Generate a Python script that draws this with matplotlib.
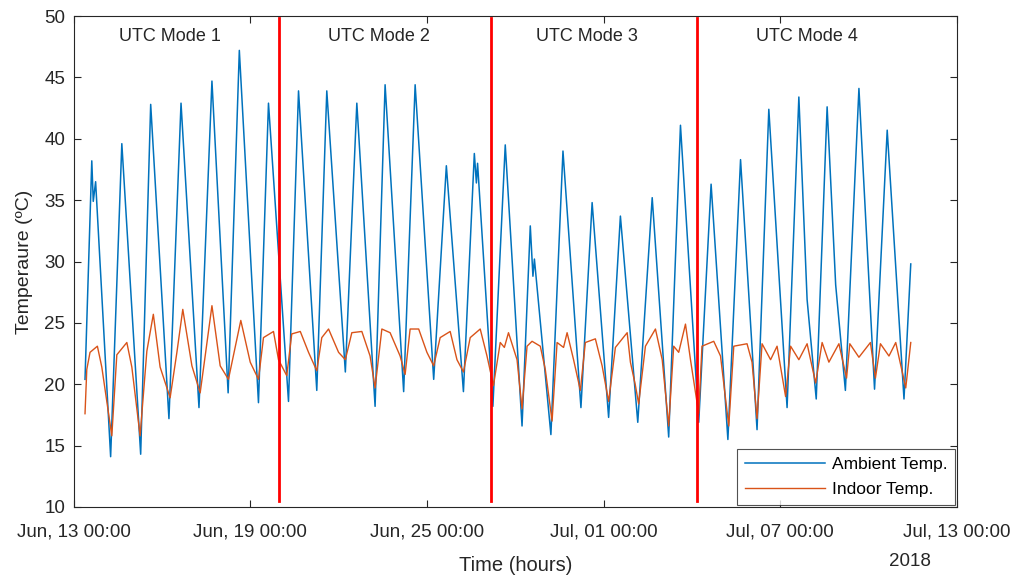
import matplotlib
matplotlib.use('Agg')
import matplotlib.pyplot as plt
import matplotlib.dates as mdates
import pandas as pd

# time axis in days since Jun 13 2018 00:00
amb_days = [0.39, 0.62, 0.67, 0.75, 1.26, 1.64, 2.28, 2.62, 3.24, 3.65, 4.26, 4.70, 5.25,
            5.63, 6.28, 6.62, 7.30, 7.64, 8.26, 8.60, 9.23, 9.62, 10.24, 10.58, 11.21,
            11.60, 12.23, 12.66, 13.24, 13.61, 13.68, 13.72, 14.24, 14.66, 15.23, 15.51,
            15.60, 15.65, 16.21, 16.62, 17.23, 17.61, 18.17, 18.57, 18.63, 19.16, 19.65,
            20.21, 20.61, 21.23, 21.65, 22.22, 22.65, 23.21, 23.61, 24.23, 24.63, 24.91,
            25.22, 25.59, 25.88, 26.21, 26.67, 27.20, 27.63, 28.20, 28.43]
amb_temp = [20.4, 38.2, 34.9, 36.5, 14.1, 39.6, 14.3, 42.8, 17.2, 42.9, 18.1, 44.7, 19.3,
            47.2, 18.5, 42.9, 18.6, 43.9, 19.5, 43.9, 21.0, 42.9, 18.2, 44.4, 19.4,
            44.4, 20.4, 37.8, 19.4, 38.8, 36.4, 38.0, 18.2, 39.5, 16.6, 32.9,
            28.8, 30.2, 15.9, 39.0, 18.1, 34.8, 17.3, 33.7, 32.0, 16.9, 35.2,
            15.7, 41.1, 16.9, 36.3, 15.5, 38.3, 16.3, 42.4, 18.1, 43.4, 26.9,
            18.8, 42.6, 28.1, 19.5, 44.1, 19.6, 40.7, 18.8, 29.8]

in_days = [0.39, 0.45, 0.56, 0.81, 0.96, 1.30, 1.47, 1.81, 1.98, 2.26, 2.49, 2.71, 2.94,
           3.28, 3.51, 3.71, 4.02, 4.30, 4.47, 4.70, 4.98, 5.26, 5.68, 6.00, 6.28, 6.45,
           6.79, 6.96, 7.24, 7.41, 7.70, 7.98, 8.26, 8.43, 8.66, 9.00, 9.23, 9.45, 9.79,
           10.07, 10.24, 10.47, 10.75, 11.09, 11.26, 11.43, 11.72, 12.00, 12.23, 12.45,
           12.79, 13.02, 13.24, 13.47, 13.81, 14.04, 14.26, 14.49, 14.63, 14.77, 15.06,
           15.23, 15.40, 15.57, 15.85, 16.02, 16.25, 16.42, 16.64, 16.76, 16.98, 17.21,
           17.38, 17.72, 17.95, 18.17, 18.40, 18.80, 18.91, 19.08, 19.19, 19.42, 19.76,
           19.99, 20.21, 20.38, 20.55, 20.78, 20.95, 21.23, 21.34, 21.74, 21.97, 22.25,
           22.42, 22.87, 23.04, 23.21, 23.38, 23.67, 23.89, 24.18, 24.35, 24.63, 24.91,
           25.20, 25.42, 25.65, 25.99, 26.25, 26.36, 26.67, 27.06, 27.23, 27.40, 27.69,
           27.92, 28.26, 28.43]
in_temp = [17.6, 21.2, 22.6, 23.1, 21.4, 15.8, 22.4, 23.4, 21.4, 15.8, 22.7, 25.7, 21.4,
           18.9, 22.6, 26.1, 21.5, 19.3, 22.3, 26.4, 21.5, 20.4, 25.2, 21.8, 20.4, 23.8,
           24.3, 22.0, 20.7, 24.1, 24.3, 22.6, 21.1, 23.8, 24.5, 22.6, 22.0, 24.2, 24.3,
           22.3, 19.7, 24.5, 24.2, 22.3, 20.8, 24.5, 24.5, 22.6, 21.5, 23.8,
           24.3, 22.0, 21.0, 23.8, 24.5, 22.3, 19.9, 23.4, 23.0, 24.2, 22.0,
           18.0, 23.1, 23.5, 23.1, 21.2, 17.0, 23.4, 23.0, 24.2, 22.0, 19.5,
           23.4, 23.7, 21.5, 18.6, 23.0, 24.2, 21.8, 19.9, 18.4, 23.1, 24.5,
           22.0, 16.6, 23.1, 22.6, 24.9, 22.0, 17.6, 23.1, 23.5, 22.3, 16.6,
           23.1, 23.3, 21.8, 17.2, 23.3, 22.0, 23.1, 19.0, 23.1, 22.0, 23.3,
           20.1, 23.4, 21.8, 23.3, 20.5, 23.3, 22.2, 23.4, 20.5, 23.3, 22.3,
           23.4, 19.7, 23.4]

mode_switch_days = [6.97, 14.19, 21.18]
mode_labels = ['UTC Mode 1', 'UTC Mode 2', 'UTC Mode 3', 'UTC Mode 4']
mode_label_days = [3.26, 10.37, 17.43, 24.91]
tick_days = [0, 6, 12, 18, 24, 30]

start = pd.Timestamp('2018-06-13 00:00')
to_time = lambda d: start + pd.to_timedelta(d, unit='D')

plt.rcParams['font.family'] = ['Liberation Sans', 'DejaVu Sans']
fig = plt.figure(figsize=(10.17, 5.76), dpi=100)
ax = fig.add_axes([0.0723, 0.1198, 0.8687, 0.8524])

ax.plot(to_time(amb_days), amb_temp, color='#0072BD', lw=1.1, label='Ambient Temp.')
ax.plot(to_time(in_days), in_temp, color='#D95319', lw=1.0, label='Indoor Temp.')

for d in mode_switch_days:
    ax.plot([to_time(d), to_time(d)], [10.5, 49.8], color='#FF0000', lw=2.0)

for d, s in zip(mode_label_days, mode_labels):
    ax.text(to_time(d), 48.3, s, ha='center', va='center', fontsize=13, color='#262626')

ax.set_xlim(to_time(0), to_time(30))
ax.set_ylim(10, 50)
ax.set_yticks(range(10, 51, 5))
ax.set_xticks(to_time(tick_days))
ax.xaxis.set_major_formatter(mdates.DateFormatter('%b, %d %H:%M'))

for lab in ax.get_xticklabels() + ax.get_yticklabels():
    lab.set_fontsize(13.5)
    lab.set_color('#262626')

ax.tick_params(direction='in', top=True, right=True, length=5, width=0.8, colors='#262626')
ax.tick_params(axis='x', pad=12)
ax.tick_params(axis='y', pad=6)
for sp in ax.spines.values():
    sp.set_color('#262626')
    sp.set_linewidth(0.8)

ax.set_xlabel('Time (hours)', fontsize=14.5, color='#262626', labelpad=11)
ax.set_ylabel('Temperaure (ºC)', fontsize=14, color='#262626', labelpad=8)
fig.text(910 / 1017, 1 - 561 / 576, '2018', fontsize=13.5, color='#262626',
         ha='center', va='center')

leg = ax.legend(loc='lower right', fontsize=12.5, frameon=True, fancybox=False,
                edgecolor='#262626', borderaxespad=0.1, handlelength=4.6,
                handletextpad=0.4, borderpad=0.45, labelspacing=0.6)
leg.get_frame().set_linewidth(0.8)

fig.savefig('out.png', dpi=100, facecolor='white')
